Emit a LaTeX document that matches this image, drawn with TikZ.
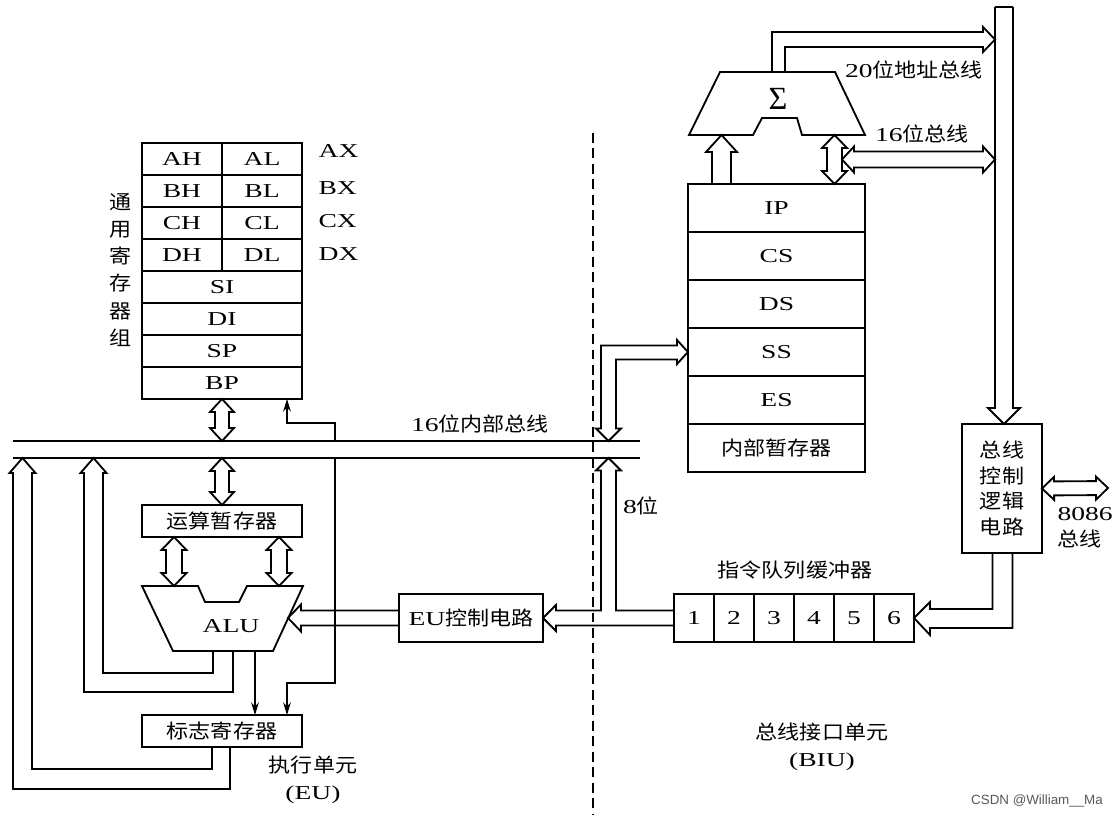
\documentclass[tikz,border=0pt]{standalone}
\usepackage{fontspec}
\setmainfont[FakeStretch=1.4]{Liberation Serif}
\setsansfont{Liberation Sans}
\newfontfamily\cjk[FakeStretch=1.12]{Noto Sans CJK SC}
\newfontfamily\sigmafont{Liberation Serif}
\usetikzlibrary{calc, arrows.meta}

% hollow block arrows, sizes in pixels of the drawing grid
\tikzset{
    fat w/.code={\pgfmathsetlengthmacro\fatw{#1*0.025cm}},
    fat h/.code={\pgfmathsetlengthmacro\fath{#1*0.025cm}},
    fat l/.code={\pgfmathsetlengthmacro\fatl{#1*0.025cm}},
    fat w=7.5, fat h=12.5, fat l=13,
    fat/.style={to path={
        ($(\tikztotarget)!\fatl!(\tikztostart)$) coordinate (fatB)
        ($(\tikztostart)!\fatw!90:(\tikztotarget)$)
        -- ($(fatB)!\fatw!90:(\tikztotarget)$)
        -- ($(fatB)!\fath!90:(\tikztotarget)$)
        -- (\tikztotarget)
        -- ($(fatB)!\fath!-90:(\tikztotarget)$)
        -- ($(fatB)!\fatw!-90:(\tikztotarget)$)
        -- ($(\tikztostart)!\fatw!-90:(\tikztotarget)$)
    }},
    fatboth/.style={to path={
        ($(\tikztostart)!\fatl!(\tikztotarget)$) coordinate (fatA)
        ($(\tikztotarget)!\fatl!(\tikztostart)$) coordinate (fatB)
        (\tikztostart)
        -- ($(fatA)!\fath!90:(\tikztotarget)$)
        -- ($(fatA)!\fatw!90:(\tikztotarget)$)
        -- ($(fatB)!\fatw!90:(\tikztotarget)$)
        -- ($(fatB)!\fath!90:(\tikztotarget)$)
        -- (\tikztotarget)
        -- ($(fatB)!\fath!-90:(\tikztotarget)$)
        -- ($(fatB)!\fatw!-90:(\tikztotarget)$)
        -- ($(fatA)!\fatw!-90:(\tikztotarget)$)
        -- ($(fatA)!\fath!-90:(\tikztotarget)$)
        -- cycle
    }},
}

\begin{document}
\begin{tikzpicture}[
    x=0.025cm, y=-0.025cm,
    >={Stealth[length=9pt, width=5.5pt]},
    line width=1.3pt, line join=miter,
    every node/.style={font=\fontsize{14}{17}\selectfont},
    box/.style={draw, line width=1.3pt, inner sep=0pt, outer sep=0pt},
    half/.style={box, minimum width=2cm, minimum height=0.8cm},
    full/.style={box, minimum width=4cm, minimum height=0.8cm},
    seg/.style={box, minimum width=4.425cm, minimum height=1.2cm},
    qcell/.style={box, minimum width=1cm, minimum height=1.2cm},
    wire/.style={line width=0.8pt},
    zh/.style={font=\cjk\fontsize{14}{17}\selectfont},
]
\fill[white] (0,0) rectangle (1115,819);
\useasboundingbox (0,0) rectangle (1115,819);

% General registers
\node[half] (ah) at (182,159) {AH};
\node[half] (al) at (262,159) {AL};
\node[half] (bh) at (182,191) {BH};
\node[half] (bl) at (262,191) {BL};
\node[half] (ch) at (182,223) {CH};
\node[half] (cl) at (262,223) {CL};
\node[half] (dh) at (182,255) {DH};
\node[half] (dl) at (262,255) {DL};
\node[full] (si) at (222,287) {SI};
\node[full] (di) at (222,319) {DI};
\node[full] (sp) at (222,351) {SP};
\node[full] (bp) at (222,383) {BP};

\node[anchor=west] (ax) at (313,151) {AX};
\node[anchor=west] (bx) at (313,188) {BX};
\node[anchor=west] (cx) at (313,221) {CX};
\node[anchor=west] (dx) at (313,254) {DX};
\node[align=center, font=\cjk\fontsize{14}{19.3}\selectfont] (gpr)
    at (121,270) {通\\用\\寄\\存\\器\\组};

% Segment registers
\node[seg] (ip) at (776.5,208) {IP};
\node[seg] (cs) at (776.5,256) {CS};
\node[seg] (ds) at (776.5,304) {DS};
\node[seg] (ss) at (776.5,352) {SS};
\node[seg] (es) at (776.5,400) {ES};
\node[seg, zh] (segtmp) at (776.5,448) {内部暂存器};

% Address adder
\draw (720,72) -- (835,72) -- (865,135) -- (802,135) -- (797,118)
    -- (762,118) -- (753,135) -- (689,135) -- cycle;
\node[font=\sigmafont\fontsize{23}{25}\selectfont] (sigma) at (778,99) {Σ};

% Bus control logic
\node[box, minimum width=2cm, minimum height=3.225cm, align=center,
    font=\cjk\fontsize{14}{18.1}\selectfont] (busctl)
    at (1002,488.5) {总线\\控制\\逻辑\\电路};

% Instruction queue
\node[qcell] (q1) at (694,618) {1};
\node[qcell] (q2) at (734,618) {2};
\node[qcell] (q3) at (774,618) {3};
\node[qcell] (q4) at (814,618) {4};
\node[qcell] (q5) at (854,618) {5};
\node[qcell] (q6) at (894,618) {6};
\node[zh] (qlabel) at (795,570) {指令队列缓冲器};

% EU side boxes
\node[box, minimum width=3.6cm, minimum height=1.2cm] (euctl)
    at (471,618) {EU{\cjk 控制电路}};
\node[box, zh, minimum width=4cm, minimum height=0.8cm] (alutmp)
    at (222,521) {运算暂存器};
\node[box, zh, minimum width=4cm, minimum height=0.8cm] (flags)
    at (222,731) {标志寄存器};

% ALU
\draw (142,586) -- (198,586) -- (205,602) -- (239,602) -- (247,586)
    -- (303,586) -- (273,651) -- (173,651) -- cycle;
\node (alu) at (231,626) {ALU};

% 16-bit internal bus
\coordinate (bus1w) at (13,441);
\coordinate (bus1e) at (640,441);
\coordinate (bus2w) at (13,458);
\coordinate (bus2e) at (640,458);
\draw (bus1w) -- (bus1e);
\draw (bus2w) -- (bus2e);
\node (ibus) at (480,424) {16{\cjk 位内部总线}};

% EU / BIU divider
\coordinate (divtop) at (593,133);
\coordinate (divbot) at (593,815);
\draw[line width=1pt, dash pattern=on 7pt off 4pt] (divtop) -- (divbot);

% Register file <-> bus <-> ALU
\coordinate (aluin1) at (174,586);
\coordinate (aluin2) at (279,586);
\coordinate (aluin3) at (288,618);
\draw[fatboth, fat w=7, fat h=12] (bp.south) to (bp.south |- bus1w);
\draw[fatboth, fat w=7, fat h=12] (alutmp.north |- bus2w) to (alutmp.north);
\draw[fatboth, fat w=8] (alutmp.south -| aluin1) to (aluin1);
\draw[fatboth, fat w=8] (alutmp.south -| aluin2) to (aluin2);
\draw[fat, fat h=13.5] (euctl.west) to (aluin3);

% ALU and flags results back to bus
\draw (213,651) -- (213,673) -- (103,673) -- (103,473) -- (106.5,473)
    -- (93.5,458) -- (80.5,473) -- (84,473) -- (84,692) -- (233,692) -- (233,651);
\draw (212,747) -- (212,769) -- (32,769) -- (32,473) -- (35.5,473)
    -- (22.5,458) -- (9.5,473) -- (13,473) -- (13,789) -- (230,789) -- (230,747);

% Control taps
\coordinate (tap) at (335,423);
\coordinate (tapin) at (287,423);
\coordinate (tap2) at (335,683);
\coordinate (tapin2) at (287,683);
\coordinate (aluout) at (255,651);
\draw[wire, ->] (tap |- bus1w) -- (tap) -- (tapin) -- (tapin |- bp.south);
\draw[wire, ->] (tap2 |- bus2w) -- (tap2) -- (tapin2) -- (tapin2 |- flags.north);
\draw[wire, ->] (aluout) -- (aluout |- flags.north);

% Queue -> EU control and 8-bit path to bus
\draw ($(q1.west)+(0,7.5)$) -- (556,625.5) -- (556,631) -- (euctl.east)
    -- (556,605) -- (556,610.5) -- (601,610.5) -- (601,470.5) -- (596,470.5)
    -- (608.5,458) -- (621,470.5) -- (616,470.5) -- (616,610.5)
    -- ($(q1.west)+(0,-7.5)$);
\node (b8) at (641,506) {8{\cjk 位}};

% SS <-> internal bus
\draw (616,428.5) -- (621,428.5) -- (608.5,441) -- (596,428.5) -- (601,428.5)
    -- (601,345.5) -- (677,345.5) -- (677,340) -- (ss.west) -- (677,364)
    -- (677,359.5) -- (616,359.5) -- cycle;

% Segment registers <-> adder
\coordinate (sigin1) at (721.5,135);
\coordinate (sigin2) at (834.5,135);
\draw[fat, fat w=9.5, fat h=15.5, fat l=17] (ip.north -| sigin1) to (sigin1);
\draw[fatboth] (ip.north -| sigin2) to (sigin2);

% External address/data bus
\coordinate (rbus) at (1004,7);
\coordinate (rbusw) at (995,7);
\draw[fat, fat w=9, fat h=16, fat l=16] (rbus) to (busctl.north -| rbus);
\draw ($(rbus)+(-9,0)$) -- ($(rbus)+(9,0)$);
\draw (772,72) -- (772,32) -- (983,32) -- (983,27) -- (995,39.5)
    -- (983,52) -- (983,47) -- (785,47) -- (785,72);
\node (addr) at (914,70) {20{\cjk 位地址总线}};
\coordinate (d16) at (842,159.5);
\draw[fatboth, fat w=8, fat h=13, fat l=12] (d16) to (d16 -| rbusw);
\node (b16) at (922,134) {16{\cjk 位总线}};

% Bus control -> queue, and 8086 bus
\draw ($(busctl.south)+(-9.5,0)$) -- (992.5,609) -- (930,609) -- (930,602)
    -- (q6.east) -- (930,635) -- (930,628) -- (1012.5,628)
    -- ($(busctl.south)+(10.5,0)$);
\coordinate (ext) at (1108,488);
\draw[fatboth, fat w=7, fat h=11.5, fat l=12] (busctl.east) to (ext);
\node[anchor=west, align=left, font=\fontsize{14}{18.5}\selectfont] (extlabel)
    at (1052,528) {8086\\{\cjk 总线}};

% Unit labels
\node[align=center, font=\fontsize{14}{19.2}\selectfont] (eulabel)
    at (313,779.5) {{\cjk 执行单元}\\(EU)};
\node[align=center, font=\fontsize{14}{19.2}\selectfont] (biulabel)
    at (822,746.5) {{\cjk 总线接口单元}\\(BIU)};
\node[font=\sffamily\fontsize{9.5}{11}\selectfont, text=gray!70!black] (mark)
    at (1037,801) {CSDN @William\_\_Ma};

\end{tikzpicture}
\end{document}
